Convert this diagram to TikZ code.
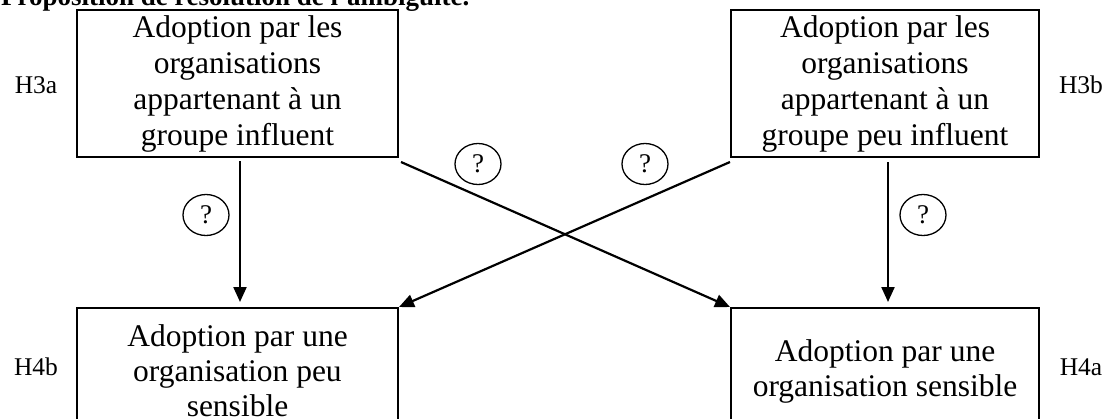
\documentclass[tikz,border=0pt]{standalone}
\usepackage{fontspec}
\setmainfont{Liberation Serif}
\usetikzlibrary{arrows.meta,shapes.geometric}
\begin{document}
\begin{tikzpicture}[x=1pt,y=-1pt,
  boxstyle/.style={draw, line width=2pt, rectangle, align=center, inner sep=0pt},
  topfont/.style={font=\fontsize{31.5}{36}\selectfont},
  botfont/.style={font=\fontsize{31.5}{35}\selectfont},
  hlabel/.style={inner sep=0pt, font=\fontsize{25.5}{30}\selectfont},
  qmark/.style={draw, ellipse, line width=1.3pt, minimum width=46pt, minimum height=41pt,
    inner sep=0pt, font=\fontsize{27}{30}\selectfont},
  arr/.style={line width=2.2pt, -{Triangle[length=15pt,width=13pt]}}]
\useasboundingbox (0,0) rectangle (1103,418);
\node[anchor=base west, inner sep=0pt, font=\bfseries\fontsize{27}{30}\selectfont]
  (title) at (1,5) {Proposition de résolution de l'ambiguïté.};
\node[boxstyle, topfont, minimum width=321pt, minimum height=147pt] (tl) at (237.5,83.5)
  {Adoption par les\\organisations\\appartenant à un\\groupe influent};
\node[boxstyle, topfont, minimum width=308pt, minimum height=147pt] (tr) at (885,83.5)
  {Adoption par les\\organisations\\appartenant à un\\groupe peu influent};
\node[boxstyle, botfont, minimum width=321pt, minimum height=126pt] (bl) at (237.5,371)
  {Adoption par une\\organisation peu\\sensible};
\node[boxstyle, botfont, minimum width=308pt, minimum height=126pt] (br) at (885,371)
  {Adoption par une\\organisation sensible};
\node[hlabel] (h3a) at (36,85) {H3a};
\node[hlabel] (h3b) at (1081,85) {H3b};
\node[hlabel] (h4b) at (36,367) {H4b};
\node[hlabel] (h4a) at (1081,367) {H4a};
\draw[arr] ([xshift=2.5pt,yshift=-3pt]tl.south) -- ([xshift=2.5pt,yshift=5pt]bl.north);
\draw[arr] ([xshift=3pt,yshift=-4pt]tr.south) -- ([xshift=3pt,yshift=5pt]br.north);
\draw[arr] ([xshift=2pt,yshift=-4pt]tl.south east) -- (br.north west);
\draw[arr] ([xshift=0pt,yshift=-4pt]tr.south west) -- (bl.north east);
\node[qmark] (q1) at (206,215) {?};
\node[qmark] (q2) at (923,215) {?};
\node[qmark] (q3) at (478,164) {?};
\node[qmark] (q4) at (645,164) {?};
\end{tikzpicture}
\end{document}
